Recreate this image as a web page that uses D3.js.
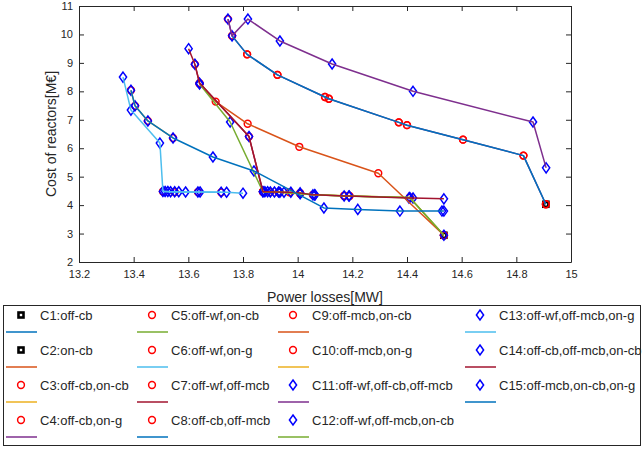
<!DOCTYPE html>
<html lang="en">
	<head>
		<meta charset="utf-8">
		<title>Reactor cost vs losses</title>
		<script src="https://d3js.org/d3.v7.min.js"></script>
		<style>
			body { margin: 0; background: #fff; }
			text { font-family: "Liberation Sans", Arial, sans-serif; fill: #262626; }
		</style>
	</head>
	<body>
		<script type="text/javascript">

			//case names (legend)
			var caseLabels = ["C1:off-cb", "C2:on-cb", "C3:off-cb,on-cb", "C4:off-cb,on-g",
				"C5:off-wf,on-cb", "C6:off-wf,on-g", "C7:off-wf,off-mcb", "C8:off-cb,off-mcb",
				"C9:off-mcb,on-cb", "C10:off-mcb,on-g", "C11:off-wf,off-cb,off-mcb", "C12:off-wf,off-mcb,on-cb",
				"C13:off-wf,off-mcb,on-g", "C14:off-cb,off-mcb,on-cb", "C15:off-mcb,on-cb,on-g"];

			//power losses [MW] per case
			var losses = [
				[14.908],
				[14.535],
				[13.873, 13.93, 14.009, 14.056, 14.17, 14.19, 14.41, 14.535],
				[13.745, 13.76, 13.815, 13.926, 14.10, 14.114, 14.37, 14.40, 14.605, 14.826, 14.908],
				[13.873, 13.90, 13.935, 13.97, 14.009, 14.056, 14.17, 14.41, 14.535],
				[13.507, 13.55, 13.635, 13.72],
				[13.624, 13.641, 13.822, 13.873],
				[13.76, 13.815, 13.926, 14.10, 14.114, 14.37, 14.40, 14.605, 14.826, 14.908],
				[13.641, 13.70, 13.817, 14.006, 14.295, 14.535],
				[13.39, 13.405, 13.452, 13.544],
				[13.745, 13.76, 13.818, 13.935, 14.126, 14.422, 14.861, 14.909],
				[13.641, 13.753, 13.873, 13.935, 14.009, 14.063, 14.188, 14.41, 14.535],
				[13.361, 13.39, 13.496, 13.507, 13.515, 13.525, 13.535, 13.55, 13.565, 13.59, 13.635, 13.643, 13.72, 13.74, 13.80],
				[13.601, 13.624, 13.641, 13.822, 13.873, 13.88, 13.89, 13.90, 13.915, 13.93, 13.95, 13.975, 14.009, 14.056, 14.063, 14.17, 14.188, 14.407, 14.422, 14.535],
				[13.39, 13.405, 13.452, 13.544, 13.69, 13.84, 14.096, 14.22, 14.374, 14.528, 14.535]
			];

			//cost of reactors [M€] per case
			var costs = [
				[4.03],
				[2.94],
				[4.47, 4.45, 4.40, 4.36, 4.33, 4.32, 4.27, 2.94],
				[10.54, 9.95, 9.30, 8.58, 7.80, 7.74, 6.91, 6.81, 6.30, 5.74, 4.03],
				[4.47, 4.46, 4.45, 4.45, 4.43, 4.36, 4.32, 4.26, 2.94],
				[4.48, 4.46, 4.46, 4.45],
				[8.95, 8.29, 6.41, 4.47],
				[9.95, 9.30, 8.58, 7.80, 7.74, 6.91, 6.81, 6.30, 5.74, 4.03],
				[8.26, 7.64, 6.86, 6.05, 5.12, 2.94],
				[8.04, 7.49, 6.96, 6.36],
				[10.54, 9.95, 10.54, 9.77, 8.96, 8.00, 6.92, 5.31],
				[8.26, 6.92, 4.47, 4.45, 4.40, 4.36, 4.32, 4.27, 2.94],
				[8.50, 7.34, 6.18, 4.48, 4.48, 4.48, 4.47, 4.47, 4.47, 4.46, 4.46, 4.46, 4.45, 4.45, 4.42],
				[9.50, 8.95, 8.29, 6.41, 4.47, 4.47, 4.47, 4.46, 4.46, 4.46, 4.45, 4.45, 4.43, 4.36, 4.36, 4.32, 4.32, 4.25, 4.25, 4.22],
				[8.04, 7.49, 6.96, 6.36, 5.69, 5.20, 3.90, 3.85, 3.79, 3.79, 3.79]
			];

			//marker type per case
			var markerTypes = ["square", "square", "circle", "circle", "circle", "circle", "circle", "circle",
				"circle", "circle", "diamond", "diamond", "diamond", "diamond", "diamond"];

			//ticks
			var xTicks = [13.2, 13.4, 13.6, 13.8, 14, 14.2, 14.4, 14.6, 14.8, 15],
				yTicks = [2, 3, 4, 5, 6, 7, 8, 9, 10, 11];

			//canvas
			var width = 644,
				height = 450,
				plotLeft = 79,
				plotRight = 571,
				plotTop = 6,
				plotBottom = 262;

			var lineColors = ["#0072BD", "#D95319", "#EDB120", "#7E2F8E", "#77AC30", "#4DBEEE", "#A2142F"];

			var svg = d3.select("body").append("svg")
				.attr("width", width)
				.attr("height", height);

			var x = d3.scaleLinear()
				.domain([13.2, 15])
				.range([plotLeft, plotRight]);

			var y = d3.scaleLinear()
				.domain([2, 11])
				.range([plotBottom, plotTop]);

			//draw one marker at (cx, cy)
			function drawMarker(g, type, cx, cy) {
				if (type == "square") {
					g.append("rect")
						.attr("x", cx - 2.5).attr("y", cy - 2.5)
						.attr("width", 5).attr("height", 5)
						.style("fill", "#fff")
						.style("stroke", "#000")
						.style("stroke-width", 2.6);
				} else if (type == "circle") {
					g.append("circle")
						.attr("cx", cx).attr("cy", cy)
						.attr("r", 3.4)
						.style("fill", "none")
						.style("stroke", "#ff0000")
						.style("stroke-width", 1.5);
				} else {
					g.append("path")
						.attr("d", "M" + cx + "," + (cy - 5) + "L" + (cx + 3.6) + "," + cy +
							"L" + cx + "," + (cy + 5) + "L" + (cx - 3.6) + "," + cy + "Z")
						.style("fill", "none")
						.style("stroke", "#0000ff")
						.style("stroke-width", 1.5);
				}
			}

			var plot = svg.append("g");

			//markers first, lines on top (as in the figure)
			var markerLayer = plot.append("g");
			losses.forEach(function(xs, i){
				xs.forEach(function(v, j){
					drawMarker(markerLayer, markerTypes[i], x(v), y(costs[i][j]));
				});
			});

			var line = d3.line()
				.x(function(d){ return x(d[0]); })
				.y(function(d){ return y(d[1]); });

			losses.forEach(function(xs, i){
				if (xs.length < 2) return;
				var pts = xs.map(function(v, j){ return [v, costs[i][j]]; });
				plot.append("path")
					.attr("d", line(pts))
					.style("fill", "none")
					.style("stroke", lineColors[i % 7])
					.style("stroke-width", 1.5)
					.style("stroke-linejoin", "round");
			});

			//axes (box with inward ticks)
			svg.append("g")
				.attr("transform", "translate(0," + plotBottom + ")")
				.call(d3.axisBottom(x).tickValues(xTicks).tickSizeInner(-5).tickSizeOuter(0).tickPadding(8)
					.tickFormat(function(d){ return d3.format("~g")(d); }));
			svg.append("g")
				.attr("transform", "translate(0," + plotTop + ")")
				.call(d3.axisTop(x).tickValues(xTicks).tickSizeInner(-5).tickSizeOuter(0).tickFormat(""));
			svg.append("g")
				.attr("transform", "translate(" + plotLeft + ",0)")
				.call(d3.axisLeft(y).tickValues(yTicks).tickSizeInner(-5).tickSizeOuter(0).tickPadding(6));
			svg.append("g")
				.attr("transform", "translate(" + plotRight + ",0)")
				.call(d3.axisRight(y).tickValues(yTicks).tickSizeInner(-5).tickSizeOuter(0).tickFormat(""));

			svg.selectAll(".domain, .tick line").style("stroke", "#262626");
			svg.selectAll(".tick text")
				.style("font-size", "11px")
				.style("font-family", "'Liberation Sans', Arial, sans-serif")
				.style("fill", "#262626");

			//axis labels
			svg.append("text")
				.attr("x", (plotLeft + plotRight) / 2)
				.attr("y", 302)
				.attr("text-anchor", "middle")
				.style("font-size", "14px")
				.text("Power losses[MW]");

			svg.append("text")
				.attr("transform", "translate(56," + ((plotTop + plotBottom) / 2) + ") rotate(-90)")
				.attr("text-anchor", "middle")
				.style("font-size", "14px")
				.text("Cost of reactors[M\u20AC]");

			//legend
			var legend = svg.append("g");
			legend.append("rect")
				.attr("x", 3.5).attr("y", 305.5)
				.attr("width", 637).attr("height", 140)
				.style("fill", "#fff")
				.style("stroke", "#262626")
				.style("stroke-width", 1);

			var colMarkerX = [21, 152, 293, 480],
				rowY = [315, 350, 385, 420];

			caseLabels.forEach(function(label, i){
				var col = Math.floor(i / 4),
					row = i % 4,
					mx = colMarkerX[col],
					my = rowY[row];
				drawMarker(legend, markerTypes[i], mx, my);
				legend.append("line")
					.attr("x1", mx - 15).attr("x2", mx + 16)
					.attr("y1", my + 17).attr("y2", my + 17)
					.style("stroke", lineColors[i % 7])
					.style("stroke-width", 1.5);
				legend.append("text")
					.attr("x", mx + 19)
					.attr("y", my + 5)
					.style("font-size", "13px")
					.text(label);
			});

		</script>
	</body>
</html>
